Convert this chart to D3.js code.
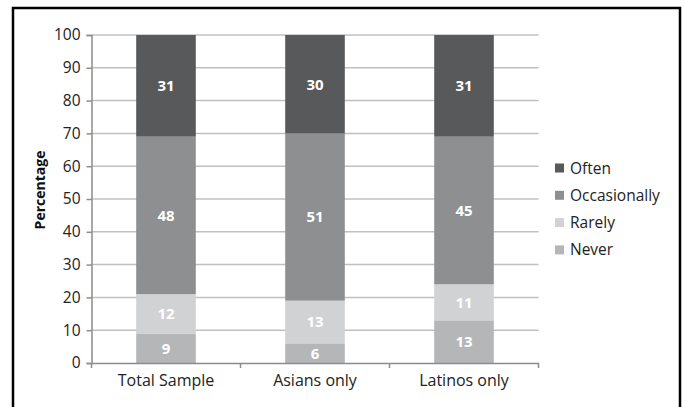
<!DOCTYPE html>
<html>
<head>
<meta charset="utf-8">
<script src="https://cdn.jsdelivr.net/npm/d3@7"></script>
<style>
  html, body { margin: 0; padding: 0; background: #fff; }
  svg { display: block; }
  text { font-family: "Open Sans", Lato, sans-serif; }
</style>
</head>
<body>
<svg id="chart" width="685" height="407"></svg>
<script>
// Categories and stacked series (percent)
const categories = ["Total Sample", "Asians only", "Latinos only"];
const never = [9, 6, 13];
const rarely = [12, 13, 11];
const occasionally = [48, 51, 45];
const often = [31, 30, 31];
const yTicks = [0, 10, 20, 30, 40, 50, 60, 70, 80, 90, 100];

const seriesNames = ["Never", "Rarely", "Occasionally", "Often"];
const seriesValues = [never, rarely, occasionally, often];
const colors = { Never: "#b5b6b8", Rarely: "#d1d2d3", Occasionally: "#8e8f91", Often: "#58595b" };
const legendOrder = ["Often", "Occasionally", "Rarely", "Never"];
const fontFamily = "'Open Sans', Lato, sans-serif";

const rows = categories.map((c, i) => {
  const r = { category: c };
  seriesNames.forEach((s, k) => r[s] = seriesValues[k][i]);
  return r;
});

const svg = d3.select("#chart");
const margin = { left: 91.5, right: 538.5, top: 35, bottom: 363 };

const x = d3.scaleBand().domain(categories).range([margin.left, margin.right]).paddingInner(0.6).paddingOuter(0.3);
const xOuter = d3.scaleBand().domain(categories).range([margin.left, margin.right]);
const y = d3.scaleLinear().domain([0, 100]).range([margin.bottom, margin.top]);

// Frame
svg.append("path")
  .attr("d", `M13,409 L13,8 L680,8 L680,409`)
  .attr("fill", "none").attr("stroke", "#000").attr("stroke-width", 2.5);

// Gridlines
svg.append("g").selectAll("line").data(yTicks.filter(t => t > 0)).join("line")
  .attr("x1", margin.left).attr("x2", margin.right)
  .attr("y1", d => y(d)).attr("y2", d => y(d))
  .attr("stroke", "#c0c0c0").attr("stroke-width", 1.5);

// Y axis
const yAxis = svg.append("g").attr("transform", `translate(${margin.left},0)`)
  .call(d3.axisLeft(y).tickValues(yTicks).tickSize(5).tickPadding(6));
yAxis.select(".domain").attr("stroke", "#8c8c8c").attr("stroke-width", 1.5);
yAxis.selectAll(".tick line").attr("stroke", "#8c8c8c").attr("stroke-width", 1.5);
yAxis.selectAll("text").attr("font-size", 15.5).attr("fill", "#222").attr("font-family", fontFamily);

// Stacked bars
const stack = d3.stack().keys(seriesNames)(rows);
const layers = svg.append("g").selectAll("g").data(stack).join("g")
  .attr("fill", d => colors[d.key]);
layers.selectAll("rect").data(d => d).join("rect")
  .attr("x", d => x(d.data.category))
  .attr("width", x.bandwidth())
  .attr("y", d => y(d[1]))
  .attr("height", d => y(d[0]) - y(d[1]));

// Value labels
layers.selectAll("text").data(d => d.map(v => ({ v, key: d.key }))).join("text")
  .attr("x", d => x(d.v.data.category) + x.bandwidth() / 2)
  .attr("y", d => (y(d.v[0]) + y(d.v[1])) / 2)
  .attr("dy", "0.36em")
  .attr("text-anchor", "middle")
  .attr("fill", "#fff").attr("font-weight", "bold").attr("font-size", 15)
  .text(d => d.v.data[d.key]);

// X axis
const xAxis = svg.append("g").attr("transform", `translate(0,${margin.bottom})`)
  .call(d3.axisBottom(xOuter).tickSize(0).tickPadding(12));
xAxis.select(".domain").attr("stroke", "#8c8c8c").attr("stroke-width", 1.5);
xAxis.selectAll("text").attr("font-size", 16).attr("fill", "#222").attr("font-family", fontFamily);
// Category boundary ticks
const bounds = categories.map(c => xOuter(c)).concat([margin.right]);
svg.append("g").selectAll("line").data(bounds).join("line")
  .attr("x1", d => d).attr("x2", d => d)
  .attr("y1", margin.bottom).attr("y2", margin.bottom + 5)
  .attr("stroke", "#8c8c8c").attr("stroke-width", 1.5);

// Y title
svg.append("text")
  .attr("transform", `translate(45,190) rotate(-90)`)
  .attr("text-anchor", "middle")
  .attr("font-size", 14).attr("font-weight", "bold").attr("fill", "#111")
  .text("Percentage");

// Legend
const legend = svg.append("g").selectAll("g").data(legendOrder).join("g")
  .attr("transform", (d, i) => `translate(555,${168 + i * 27.3})`);
legend.append("rect").attr("x", 0).attr("y", -4.5).attr("width", 9).attr("height", 9)
  .attr("fill", d => colors[d]);
legend.append("text").attr("x", 15).attr("dy", "0.36em")
  .attr("font-size", 15.5).attr("fill", "#222").text(d => d);
</script>
</body>
</html>
